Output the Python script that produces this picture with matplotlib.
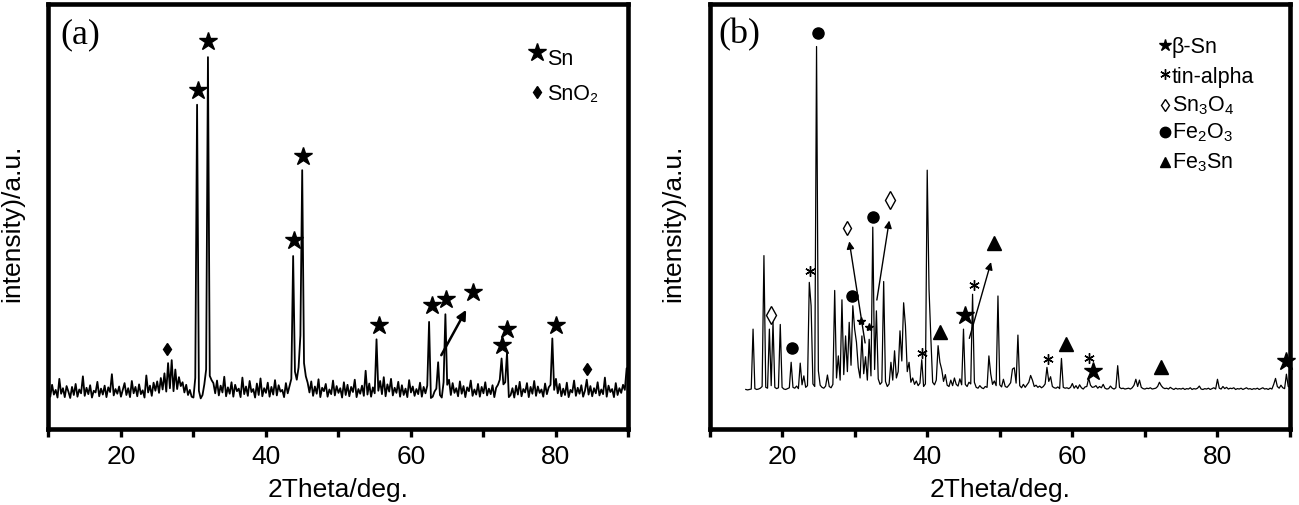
import numpy as np
import matplotlib.pyplot as plt

plt.rcParams['font.family'] = ['Liberation Sans', 'DejaVu Sans']
plt.rcParams['mathtext.fontset'] = 'custom'
plt.rcParams['mathtext.rm'] = 'Liberation Sans'
plt.rcParams['mathtext.it'] = 'Liberation Sans:italic'

# ---- data (intensity in % of axis height) ----
# (a) scan 10..90 deg, 0.25 deg step
intensity_a = [
    9.8, 7.6, 10.4, 8.1, 9.2, 7.4, 11.8, 8.3, 9.6, 7.5, 10.1, 8.8, 7.3, 9.9, 8.0, 10.6, 7.6, 9.3, 8.4, 12.4,
    7.8, 9.7, 8.2, 10.3, 7.4, 9.0, 8.6, 11.1, 7.7, 9.5, 8.1, 10.2, 7.5, 9.8, 8.7, 12.9, 7.9, 9.4, 8.3, 10.0,
    7.6, 9.2, 10.8, 8.0, 9.6, 7.5, 11.3, 8.4, 9.9, 7.7, 10.5, 8.2, 9.1, 7.4, 12.6, 8.6, 10.2, 7.8, 10.9, 9.0,
    11.2, 8.5, 12.0, 9.3, 13.1, 8.8, 15.5, 9.6, 16.2, 8.9, 14.0, 9.4, 12.2, 10.1, 11.0, 8.6, 10.4, 8.0, 9.2, 7.6,
    7.4, 12.0, 76.3, 9.0, 7.2, 8.0, 10.5, 14.0, 87.5, 12.5, 11.5, 10.8, 8.4, 11.4, 7.9, 10.2, 8.6, 12.3, 7.7, 9.8,
    8.3, 11.0, 7.6, 10.4, 8.9, 9.5, 7.5, 12.1, 8.2, 10.0, 7.8, 11.3, 8.7, 9.4, 7.4, 10.7, 8.0, 11.9, 7.7, 9.6,
    8.5, 10.9, 7.6, 9.9, 8.1, 11.5, 7.9, 10.3, 8.8, 9.2, 7.5, 10.8, 8.4, 10.1, 11.8, 40.7, 13.5, 11.6, 14.5, 22.0,
    60.9, 15.5, 12.4, 10.9, 8.6, 11.2, 7.8, 10.0, 8.3, 11.7, 7.5, 9.7, 8.9, 10.6, 7.6, 9.3, 8.2, 11.4, 7.9, 10.1,
    8.5, 9.6, 7.4, 11.0, 8.0, 10.4, 7.7, 9.9, 8.7, 11.6, 7.5, 9.4, 8.3, 10.2, 7.8, 13.7, 8.1, 10.7, 7.6, 9.8,
    8.4, 21.1, 9.0, 11.3, 8.2, 12.2, 7.7, 10.5, 8.8, 11.8, 7.9, 9.7, 8.5, 11.1, 7.6, 10.3, 8.0, 9.5, 7.5, 11.5,
    8.6, 10.0, 7.8, 9.4, 8.2, 10.9, 7.6, 9.9, 8.4, 10.2, 25.2, 7.3, 7.6, 8.8, 9.5, 15.7, 8.0, 7.4, 11.0, 27.0,
    10.4, 11.6, 8.0, 10.8, 8.5, 9.6, 7.7, 11.2, 8.3, 10.1, 7.5, 9.8, 8.9, 11.4, 7.8, 9.3, 8.1, 10.6, 7.6, 9.9,
    8.4, 11.0, 7.9, 9.5, 8.2, 10.3, 7.5, 9.7, 10.4, 11.6, 16.6, 10.5, 11.0, 18.0, 7.5, 8.0, 9.6, 7.4, 10.2, 8.1,
    11.1, 7.7, 9.4, 8.6, 10.8, 7.5, 9.9, 8.3, 11.3, 7.8, 10.0, 8.5, 9.3, 7.6, 10.7, 8.2, 9.8, 10.4, 21.3, 9.2,
    11.8, 8.4, 10.6, 7.7, 9.5, 8.0, 10.9, 7.5, 9.2, 8.6, 11.4, 7.8, 9.7, 8.3, 10.3, 7.6, 9.0, 11.6, 8.1, 10.1,
    7.7, 9.6, 8.4, 11.0, 7.9, 9.3, 8.2, 12.1, 7.6, 10.2, 8.7, 9.4, 7.5, 10.8, 8.0, 9.6, 8.5, 10.4, 9.2, 14.3,
    12.0,
]
# (b) scan 15..90 deg, 0.25 deg step
intensity_b = [
    9.3, 9.2, 9.3, 9.4, 23.5, 9.5, 9.3, 9.4, 9.6, 10.0, 40.8, 9.8, 9.6, 23.5, 10.2, 25.2, 9.8, 9.5, 9.7, 24.6,
    9.8, 9.4, 9.3, 9.5, 9.7, 15.7, 9.8, 9.6, 10.1, 9.5, 15.5, 10.4, 12.5, 9.8, 10.2, 34.5, 29.0, 10.6, 10.0, 90.0,
    13.7, 10.3, 9.8, 9.6, 10.1, 12.7, 10.0, 9.7, 10.5, 32.6, 12.0, 17.2, 11.5, 30.4, 12.8, 21.9, 13.5, 25.1, 15.0, 29.0,
    23.5, 20.4, 14.5, 12.0, 21.9, 13.0, 17.0, 11.5, 21.1, 12.5, 47.5, 14.0, 27.8, 11.8, 10.5, 11.0, 34.7, 11.2, 10.0, 10.6,
    15.7, 11.5, 18.4, 12.0, 13.5, 23.1, 16.0, 29.7, 24.3, 13.5, 15.7, 11.0, 12.0, 10.5, 11.3, 10.2, 10.8, 16.3, 10.0, 10.6,
    60.9, 32.9, 21.5, 11.0, 10.4, 11.5, 19.6, 15.7, 14.0, 11.2, 12.8, 10.3, 10.0, 11.5, 10.2, 12.0, 10.5, 10.1, 11.8, 10.4,
    23.5, 10.5, 10.0, 11.0, 10.6, 31.7, 11.0, 9.8, 9.6, 10.2, 9.7, 9.5, 10.0, 9.8, 17.2, 13.0, 10.5, 11.3, 10.2, 31.3,
    10.4, 9.9, 11.7, 10.0, 9.8, 10.3, 10.9, 14.1, 14.4, 10.8, 22.1, 10.2, 9.7, 10.5, 9.8, 10.4, 11.0, 12.6, 11.5, 10.0,
    10.3, 9.8, 10.1, 9.7, 10.0, 10.6, 14.5, 11.2, 12.3, 10.0, 9.7, 9.6, 9.9, 9.5, 16.6, 9.8, 9.6, 9.7, 9.5, 9.8,
    10.7, 9.6, 10.2, 9.5, 10.4, 9.7, 9.4, 9.9, 10.0, 12.0, 10.3, 9.8, 9.9, 10.2, 9.6, 10.0, 9.7, 10.5, 9.6, 9.4,
    9.5, 10.1, 9.6, 9.4, 9.7, 14.9, 9.8, 9.5, 9.6, 9.4, 9.5, 9.6, 9.4, 9.7, 10.3, 11.7, 10.0, 11.5, 9.8, 9.5,
    9.4, 9.6, 9.5, 9.7, 9.4, 9.5, 9.6, 10.0, 11.0, 10.2, 9.7, 9.5, 9.6, 9.4, 9.8, 9.5, 9.3, 9.6, 9.4, 9.5,
    9.4, 9.6, 9.3, 9.5, 9.4, 9.7, 9.3, 9.5, 9.4, 9.6, 10.1, 9.4, 9.3, 9.5, 9.4, 9.6, 9.3, 9.5, 9.7, 9.4,
    11.7, 9.6, 9.4, 10.0, 9.5, 9.8, 9.4, 9.6, 9.5, 9.7, 9.3, 9.5, 9.4, 9.6, 9.3, 9.5, 9.7, 9.4, 9.5, 9.3,
    9.5, 9.4, 9.6, 9.3, 9.5, 9.7, 9.4, 9.5, 9.3, 9.6, 9.4, 10.5, 11.9, 10.0, 9.6, 10.3, 9.7, 9.5, 12.9, 10.0,
    9.8,
]
two_theta_a = np.linspace(10, 90, len(intensity_a))
two_theta_b = np.linspace(15, 90, len(intensity_b))

tick_positions = [10, 20, 30, 40, 50, 60, 70, 80, 90]
tick_labels = ['', '20', '', '40', '', '60', '', '80', '']

# phase markers (a)
sn_a_x = [30.6, 32.0, 43.8, 45.1, 55.6, 62.9, 64.9, 68.6, 72.5, 73.3, 80.0]
sn_a_y = [79.7, 91.4, 44.4, 64.3, 24.4, 29.1, 30.5, 32.2, 19.7, 23.5, 24.4]
sno2_a_x = [26.4, 84.25]
sno2_a_y = [18.9, 14.1]
arrow_a = [((64.0, 16.8), (67.8, 28.6))]

# phase markers (b)
beta_sn_x = [45.2, 62.9, 89.5]
beta_sn_y = [26.8, 13.7, 16.0]
beta_sn_small_x = [30.9, 32.0]
beta_sn_small_y = [25.3, 24.1]
tin_alpha_x = [23.8, 39.3, 46.4, 56.6, 62.3]
tin_alpha_y = [37.2, 17.8, 33.8, 16.4, 16.8]
sn3o4_x = [18.5, 34.9]
sn3o4_y = [26.8, 53.8]
sn3o4_small_x = [28.9]
sn3o4_small_y = [47.2]
fe2o3_x = [21.4, 25.0, 29.7, 32.5]
fe2o3_y = [19.0, 93.1, 31.3, 49.8]
fe3sn_x = [41.7, 49.2, 59.1, 72.2]
fe3sn_y = [22.8, 43.8, 20.1, 14.5]
arrows_b = [((31.5, 19.6), (29.2, 44.8)),
            ((33.0, 29.7), (34.83, 49.7)),
            ((45.7, 20.7), (48.9, 39.9))]

legend_a = ['Sn', 'SnO₂']
legend_b = ['β-Sn', 'tin-alpha', 'Sn$_3$O$_4$', 'Fe$_2$O$_3$', 'Fe$_3$Sn']


def style_axes(ax):
    ax.set_xlim(10, 90)
    ax.set_ylim(0, 100)
    ax.set_xticks(tick_positions)
    ax.set_xticklabels(tick_labels)
    ax.set_yticks([])
    for s in ax.spines.values():
        s.set_linewidth(3.3)
    ax.tick_params(axis='x', direction='out', length=5.5, width=2.4, pad=5, labelsize=19)
    ax.set_xlabel('2Theta/deg.', fontsize=19, labelpad=7)
    ax.set_ylabel('intensity)/a.u.', fontsize=19)
    ax.yaxis.set_label_coords(-0.041, 0.487)


def marks(ax, x, y, **kw):
    ax.plot(x, y, linestyle='none', color='k', clip_on=False, **kw)


fig = plt.figure(figsize=(12.99, 5.06), dpi=100)
ax_a = fig.add_axes([0.0373, 0.1502, 0.4465, 0.8399])
ax_b = fig.add_axes([0.5462, 0.1502, 0.4469, 0.8399])

# panel (a)
ax_a.plot(two_theta_a, intensity_a, color='k', lw=1.3)
marks(ax_a, sn_a_x, sn_a_y, marker='*', markersize=13.5)
marks(ax_a, sno2_a_x, sno2_a_y, marker='d', markersize=6.5)
for start, tip in arrow_a:
    ax_a.annotate('', xy=tip, xytext=start,
                  arrowprops=dict(arrowstyle='-|>', color='k', lw=1.8, mutation_scale=14))
style_axes(ax_a)
ax_a.text(0.02, 0.93, '(a)', transform=ax_a.transAxes, fontsize=26,
          family='Liberation Serif', va='center', ha='left')
marks(ax_a, [77.45], [88.7], marker='*', markersize=13.5)
marks(ax_a, [77.45], [79.2], marker='d', markersize=6.5)
ax_a.text(78.8, 85.9, legend_a[0], fontsize=15.5, va='baseline')
ax_a.text(78.8, 77.6, legend_a[1], fontsize=15.5, va='baseline')

# panel (b)
ax_b.plot(two_theta_b, intensity_b, color='k', lw=0.9)
marks(ax_b, beta_sn_x, beta_sn_y, marker='*', markersize=13.5)
marks(ax_b, beta_sn_small_x, beta_sn_small_y, marker='*', markersize=6)
marks(ax_b, tin_alpha_x, tin_alpha_y, marker=(6, 2, 0), markersize=7.5, markeredgewidth=1.0)
marks(ax_b, sn3o4_x, sn3o4_y, marker='d', markersize=9, markerfacecolor='white', markeredgewidth=1)
marks(ax_b, sn3o4_small_x, sn3o4_small_y, marker='d', markersize=6.8,
      markerfacecolor='white', markeredgewidth=1)
marks(ax_b, fe2o3_x, fe2o3_y, marker='o', markersize=8)
marks(ax_b, fe3sn_x, fe3sn_y, marker='^', markersize=9.5)
for start, tip in arrows_b:
    ax_b.annotate('', xy=tip, xytext=start,
                  arrowprops=dict(arrowstyle='-|>', color='k', lw=1.0, mutation_scale=11))
style_axes(ax_b)
ax_b.text(0.016, 0.93, '(b)', transform=ax_b.transAxes, fontsize=26,
          family='Liberation Serif', va='center', ha='left')

leg_x_mark, leg_x_text = 72.74, 73.7
leg_mark_y = [90.4, 83.5, 76.2, 70.0, 62.8]
leg_text_y = [88.8, 81.7, 74.9, 68.6, 61.6]
leg_styles = [dict(marker='*', markersize=9),
              dict(marker=(6, 2, 0), markersize=7.5, markeredgewidth=1.0),
              dict(marker='d', markersize=6.5, markerfacecolor='white', markeredgewidth=1),
              dict(marker='o', markersize=7.5),
              dict(marker='^', markersize=7)]
for label, my, ty, st in zip(legend_b, leg_mark_y, leg_text_y, leg_styles):
    marks(ax_b, [leg_x_mark], [my], **st)
    ax_b.text(leg_x_text, ty, label, fontsize=15.5, va='baseline')

fig.savefig('out.png', dpi=100)
